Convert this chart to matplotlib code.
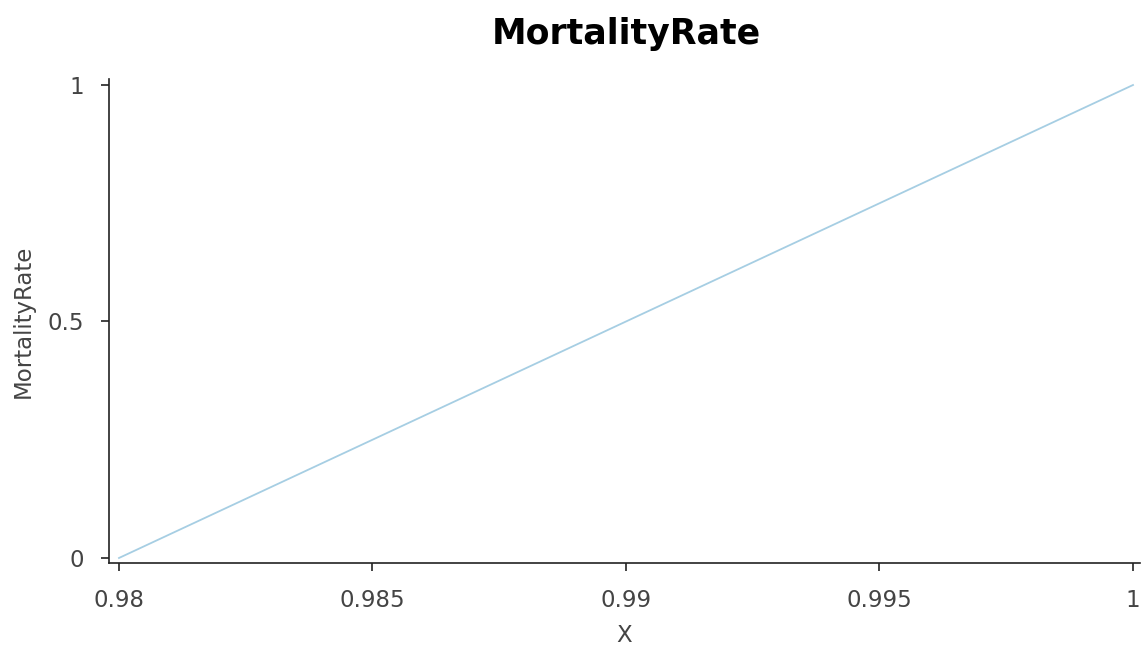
import matplotlib
matplotlib.use('Agg')
import matplotlib.pyplot as plt

# --- Data ---
x_vals = [0.98, 1.0]
mortality = [0.0, 1.0]
x_ticks = [0.98, 0.985, 0.99, 0.995, 1.0]
x_tick_labels = ['0.98', '0.985', '0.99', '0.995', '1']
y_ticks = [0, 0.5, 1]
y_tick_labels = ['0', '0.5', '1']

plt.rcParams.update({
    'font.family': 'DejaVu Sans',
    'font.size': 16,
})

fig = plt.figure(figsize=(11.43, 6.48), dpi=100)
ax = fig.add_axes([109 / 1143, 1 - 563 / 648, (1140 - 109) / 1143, (563 - 79) / 648])

ax.plot(x_vals, mortality, color='#a6cee3', linewidth=1.3)

ax.set_xlim(0.979803, 1.000138)
ax.set_ylim(-0.0106, 1.0127)
ax.set_xticks(x_ticks)
ax.set_xticklabels(x_tick_labels)
ax.set_yticks(y_ticks)
ax.set_yticklabels(y_tick_labels)

for side in ('top', 'right'):
    ax.spines[side].set_visible(False)
for side in ('left', 'bottom'):
    ax.spines[side].set_linewidth(1.2)
    ax.spines[side].set_color('#222222')

ax.tick_params(direction='out', length=6, width=1.2, colors='#222222',
               labelcolor='#444444', labelsize=16.5)
ax.tick_params(axis='x', pad=13)
ax.tick_params(axis='y', pad=12)

ax.set_xlabel('X', fontsize=16.5, color='#444444', labelpad=8)
ax.set_ylabel('MortalityRate', fontsize=16.5, color='#444444', labelpad=9)
fig.suptitle('MortalityRate', fontsize=25, fontweight='bold', x=626 / 1143, y=1 - 34 / 648,
             va='center')

fig.savefig('out.png', dpi=100)
